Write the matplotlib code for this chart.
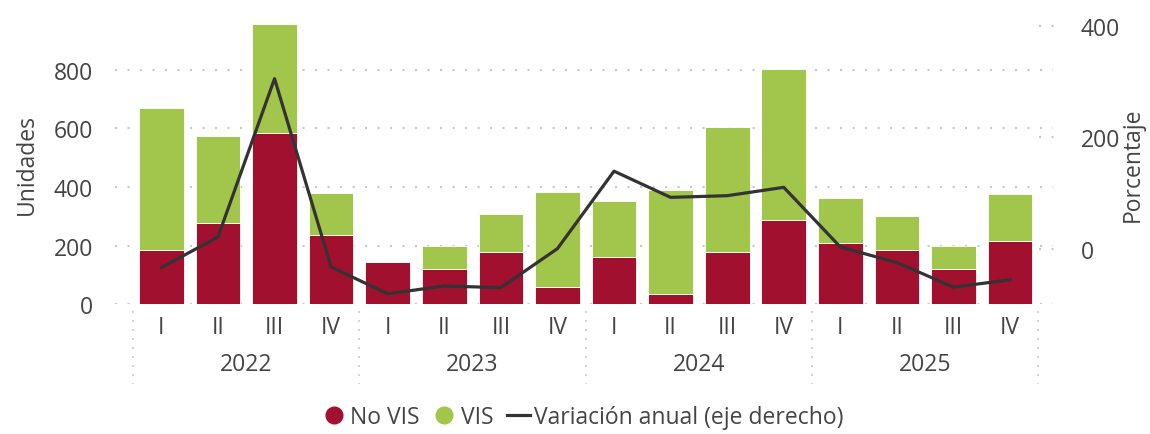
import numpy as np
import matplotlib
matplotlib.use("Agg")
import matplotlib.pyplot as plt
from matplotlib.lines import Line2D

plt.rcParams['font.family'] = ['Open Sans', 'DejaVu Sans']

# datos
years = ['2022', '2023', '2024', '2025']
quarters = ['I', 'II', 'III', 'IV']
no_vis = [185, 277, 584, 235, 145, 119, 177, 60, 161, 37, 180, 289, 211, 184, 122, 217]
vis = [484, 297, 372, 145, 0, 81, 130, 322, 190, 354, 425, 515, 153, 117, 77, 161]
variacion = [-34, 21, 305, -33, -81, -67, -70, 0, 139, 92, 95, 110, 3, -25, -69, -56]

red = '#A1102E'
green = '#A1C64B'
txt = '#444444'
grid_c = '#C8C8C8'
fs = 16.5

x = np.arange(len(no_vis))
labels = quarters * len(years)

fig = plt.figure(figsize=(11.5, 4.35), dpi=100)
ax = fig.add_axes([0.1, 0.298, 0.8157, 0.647])
ax2 = ax.twinx()

ax.bar(x, no_vis, width=0.79, color=red, edgecolor='white', linewidth=0.6, zorder=2)
ax.bar(x, vis, bottom=no_vis, width=0.79, color=green, edgecolor='white', linewidth=0.6, zorder=2)
ax2.plot(x, variacion, color='#333333', lw=2.3, zorder=3)

ax.set_xlim(-0.82, 15.76)
ax.set_ylim(0, 960)
ax2.set_ylim(-100, 405)
ax.set_yticks([0, 200, 400, 600, 800])
ax2.set_yticks([0, 200, 400])

ax.yaxis.grid(True, color=grid_c, linestyle=(0, (1, 5)), linewidth=1.5, zorder=0)
ax.set_axisbelow(True)
# pequeños trazos de la grilla del eje derecho
for v in [0, 200, 400]:
    ax2.plot([0.985, 1.003], [v, v], transform=ax2.get_yaxis_transform(),
             color=grid_c, linestyle=(0, (1, 5)), linewidth=1.5, clip_on=False)

for a in (ax, ax2):
    for s in a.spines.values():
        s.set_visible(False)

ax.tick_params(axis='y', length=0, pad=16, labelsize=fs, labelcolor=txt)
ax2.tick_params(axis='y', length=0, pad=20, labelsize=fs, labelcolor=txt)
ax.set_xticks(x)
ax.set_xticklabels(labels)
ax.tick_params(axis='x', length=0, pad=8, labelsize=fs, labelcolor=txt)

# títulos de ejes
fig.text(27 / 1150, 1 - 165 / 435, 'Unidades', rotation=90, ha='center', va='center',
         fontsize=fs, color=txt)
fig.text(1133 / 1150, 1 - 165 / 435, 'Porcentaje', rotation=90, ha='center', va='center',
         fontsize=fs, color=txt)

# años y separadores
tr = ax.get_xaxis_transform()
for i, yr in enumerate(years):
    ax.text(i * 4 + 1.5, -0.212, yr, transform=tr, ha='center', va='center',
            fontsize=fs, color=txt)
for sep in np.arange(len(years) + 1) * 4 - 0.5:
    ax.add_line(Line2D([sep, sep], [-0.025, -0.284], transform=tr, color=grid_c,
                       linestyle=(0, (1, 4)), linewidth=1.3, clip_on=False))

handles = [
    Line2D([], [], marker='o', linestyle='none', markersize=12, color=red),
    Line2D([], [], marker='o', linestyle='none', markersize=12, color=green),
    Line2D([], [], color='#333333', lw=2.3),
]
fig.legend(handles, ['No VIS', 'VIS', 'Variación anual (eje derecho)'],
           loc='center', bbox_to_anchor=(583 / 1150, 1 - 418 / 435), ncol=3,
           frameon=False, fontsize=fs, labelcolor=txt, handlelength=1.0,
           handletextpad=0.2, columnspacing=0.6)

fig.savefig('out.png', dpi=100)
